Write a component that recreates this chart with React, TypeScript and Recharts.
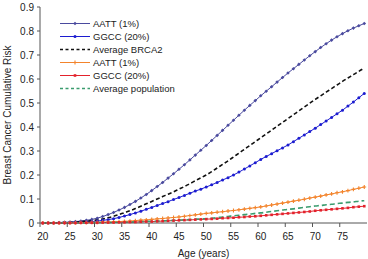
import { ComposedChart, Line, XAxis, YAxis } from 'recharts'

const ages = Array.from({ length: 60 }, (_, i) => 20 + i)

// BRCA2 carriers
const brcaAATT = [
  0, 0.001, 0.001, 0.002, 0.003, 0.004, 0.006, 0.008, 0.011, 0.015,
  0.02, 0.027, 0.035, 0.044, 0.054, 0.065, 0.077, 0.09, 0.104, 0.119,
  0.135, 0.152, 0.169, 0.187, 0.205, 0.224, 0.243, 0.263, 0.283, 0.303,
  0.323, 0.344, 0.365, 0.386, 0.407, 0.428, 0.449, 0.47, 0.49, 0.51,
  0.53, 0.549, 0.568, 0.587, 0.606, 0.625, 0.643, 0.661, 0.679, 0.697,
  0.714, 0.731, 0.747, 0.762, 0.776, 0.789, 0.801, 0.812, 0.822, 0.831,
]
const brcaGGCC = [
  0, 0, 0, 0.001, 0.001, 0.002, 0.003, 0.004, 0.005, 0.006,
  0.008, 0.011, 0.014, 0.018, 0.023, 0.029, 0.035, 0.042, 0.049, 0.057,
  0.065, 0.073, 0.081, 0.089, 0.098, 0.106, 0.115, 0.124, 0.133, 0.141,
  0.15, 0.159, 0.169, 0.179, 0.189, 0.2, 0.212, 0.225, 0.238, 0.251,
  0.265, 0.277, 0.289, 0.301, 0.313, 0.325, 0.339, 0.353, 0.367, 0.381,
  0.395, 0.41, 0.425, 0.44, 0.455, 0.47, 0.487, 0.504, 0.522, 0.54,
]
const brcaAvg = [
  0, 0, 0.001, 0.001, 0.002, 0.003, 0.004, 0.006, 0.008, 0.01,
  0.013, 0.017, 0.022, 0.028, 0.035, 0.043, 0.051, 0.06, 0.07, 0.08,
  0.09, 0.1, 0.11, 0.12, 0.13, 0.141, 0.152, 0.164, 0.176, 0.188,
  0.2, 0.214, 0.229, 0.244, 0.259, 0.275, 0.291, 0.307, 0.323, 0.339,
  0.355, 0.371, 0.387, 0.403, 0.419, 0.435, 0.451, 0.467, 0.483, 0.499,
  0.515, 0.53, 0.545, 0.56, 0.575, 0.59, 0.604, 0.618, 0.632, 0.645,
]
// general population
const popAATT = [
  0, 0, 0, 0, 0.001, 0.001, 0.001, 0.002, 0.002, 0.003,
  0.003, 0.004, 0.004, 0.005, 0.006, 0.007, 0.008, 0.01, 0.012, 0.013,
  0.015, 0.017, 0.019, 0.021, 0.023, 0.025, 0.028, 0.031, 0.034, 0.037,
  0.04, 0.042, 0.045, 0.047, 0.05, 0.052, 0.055, 0.058, 0.061, 0.064,
  0.067, 0.071, 0.075, 0.079, 0.083, 0.087, 0.091, 0.095, 0.099, 0.104,
  0.108, 0.112, 0.117, 0.121, 0.126, 0.13, 0.135, 0.14, 0.145, 0.15,
]
const popGGCC = [
  0, 0, 0, 0, 0, 0, 0, 0.001, 0.001, 0.001,
  0.001, 0.002, 0.002, 0.002, 0.003, 0.003, 0.004, 0.004, 0.005, 0.006,
  0.006, 0.007, 0.008, 0.009, 0.01, 0.011, 0.012, 0.013, 0.014, 0.015,
  0.016, 0.017, 0.018, 0.02, 0.021, 0.022, 0.024, 0.025, 0.027, 0.028,
  0.03, 0.032, 0.034, 0.036, 0.038, 0.04, 0.042, 0.044, 0.046, 0.048,
  0.051, 0.053, 0.055, 0.057, 0.059, 0.061, 0.063, 0.066, 0.068, 0.07,
]
const popAvg = [
  0, 0, 0, 0, 0, 0, 0.001, 0.001, 0.001, 0.001,
  0.002, 0.002, 0.002, 0.003, 0.003, 0.004, 0.004, 0.005, 0.006, 0.007,
  0.007, 0.008, 0.009, 0.01, 0.011, 0.012, 0.013, 0.014, 0.016, 0.017,
  0.018, 0.02, 0.022, 0.025, 0.027, 0.03, 0.032, 0.035, 0.037, 0.04,
  0.042, 0.045, 0.048, 0.051, 0.054, 0.057, 0.059, 0.062, 0.065, 0.068,
  0.071, 0.073, 0.076, 0.078, 0.081, 0.083, 0.086, 0.088, 0.091, 0.093,
]

const yTicks = [0, 0.1, 0.2, 0.3, 0.4, 0.5, 0.6, 0.7, 0.8, 0.9]

const data = ages.map((age, i) => ({
  age,
  brcaAATT: brcaAATT[i],
  brcaGGCC: brcaGGCC[i],
  brcaAvg: brcaAvg[i],
  popAATT: popAATT[i],
  popGGCC: popGGCC[i],
  popAvg: popAvg[i],
}))

const W = 368
const H = 259
const M = { top: 7, right: 1, left: 0, bottom: 0 }
const Y_W = 40
const BAND = (W - M.left - M.right - Y_W) / ages.length
const FONT = '"Liberation Sans", Arial, sans-serif'
const AXIS = '#555'

type Marker = 'diamond' | 'circle' | 'plus' | 'square' | 'none'

const drawMarker = (kind: Marker, cx: number, cy: number, color: string, key?: any) => {
  if (kind === 'diamond')
    return <path key={key} d={`M${cx},${cy - 1.8}L${cx + 1.8},${cy}L${cx},${cy + 1.8}L${cx - 1.8},${cy}Z`} fill={color} />
  if (kind === 'circle') return <circle key={key} cx={cx} cy={cy} r={1.5} fill={color} />
  if (kind === 'square') return <rect key={key} x={cx - 1.3} y={cy - 1.3} width={2.6} height={2.6} fill={color} />
  if (kind === 'plus')
    return (
      <path key={key} d={`M${cx - 1.9},${cy}H${cx + 1.9}M${cx},${cy - 1.9}V${cy + 1.9}`} stroke={color} strokeWidth={1.1} />
    )
  return <g key={key} />
}

const series = [
  { key: 'brcaAATT', name: 'AATT (1%)', color: '#4a4a9e', marker: 'diamond' as Marker, dash: undefined, width: 1 },
  { key: 'brcaGGCC', name: 'GGCC (20%)', color: '#1c1cd0', marker: 'circle' as Marker, dash: undefined, width: 1 },
  { key: 'brcaAvg', name: 'Average BRCA2', color: '#111', marker: 'none' as Marker, dash: '4 2.5', width: 1.6 },
  { key: 'popAATT', name: 'AATT (1%)', color: '#f3842c', marker: 'plus' as Marker, dash: undefined, width: 1 },
  { key: 'popGGCC', name: 'GGCC (20%)', color: '#e3222c', marker: 'square' as Marker, dash: undefined, width: 1 },
  { key: 'popAvg', name: 'Average population', color: '#3a9c6e', marker: 'none' as Marker, dash: '5 3', width: 1.6 },
]

const LegendBox = () => (
  <div style={{ fontFamily: FONT, fontSize: 9.5, color: '#222', lineHeight: '13px' }}>
    {series.map((s) => (
      <div key={s.key} style={{ display: 'flex', alignItems: 'center', height: 13 }}>
        <svg width={32} height={13} style={{ marginRight: 2 }}>
          <line x1={1} y1={6.5} x2={31} y2={6.5} stroke={s.color} strokeWidth={s.dash ? 1.3 : 1} strokeDasharray={s.dash ? '3 2.5' : undefined} />
          {drawMarker(s.marker, 16, 6.5, s.color)}
        </svg>
        <span>{s.name}</span>
      </div>
    ))}
  </div>
)

const AgeTick = (props: any) => {
  const { x, y, payload } = props
  const bx = x - BAND / 2
  return (
    <g>
      <line x1={bx} y1={y - 9} x2={bx} y2={y - 5} stroke={AXIS} />
      <text x={x} y={y} dy="0.75em" textAnchor="middle" fontSize={10} fontFamily={FONT} fill="#222">
        {payload.value}
      </text>
    </g>
  )
}

const RiskLabel = (props: any) => {
  const vb = props.viewBox || {}
  const cy = vb.y + vb.height / 2
  const tx = 11
  return (
    <text
      x={tx}
      y={cy}
      transform={`rotate(-90, ${tx}, ${cy})`}
      textAnchor="middle"
      fontSize={10}
      fontFamily={FONT}
      fill="#222"
    >
      Breast Cancer Cumulative Risk
    </text>
  )
}

export default function App() {
  return (
    <div style={{ position: 'absolute', left: 0, top: 0, width: W, height: H, background: '#fff' }}>
      <ComposedChart width={W} height={H} data={data} margin={M}>
        <XAxis
          dataKey="age"
          scale="band"
          interval={4}
          tickLine={false}
          tickSize={4}
          tickMargin={5}
          stroke={AXIS}
          tick={<AgeTick />}
          height={36}
          label={{ value: 'Age (years)', position: 'insideBottom', offset: 2, fontSize: 10, fontFamily: FONT, fill: '#222' }}
        />
        <YAxis
          width={Y_W}
          domain={[0, 0.9]}
          ticks={yTicks}
          tickSize={3}
          tickMargin={3}
          stroke={AXIS}
          tickFormatter={(v: number) => (v === 0 ? '0' : v.toFixed(1))}
          tick={{ fontSize: 10, fontFamily: FONT, fill: '#222' }}
          label={<RiskLabel />}
        />
        {series.map((s) => (
          <Line
            key={s.key}
            dataKey={s.key}
            name={s.name}
            type="monotone"
            stroke={s.color}
            strokeWidth={s.width}
            strokeDasharray={s.dash}
            dot={(p: any) => drawMarker(s.marker, p.cx, p.cy, s.color, p.index)}
            activeDot={false}
            isAnimationActive={false}
          />
        ))}
      </ComposedChart>
      <div style={{ position: 'absolute', left: 59, top: 17 }}>
        <LegendBox />
      </div>
    </div>
  )
}
